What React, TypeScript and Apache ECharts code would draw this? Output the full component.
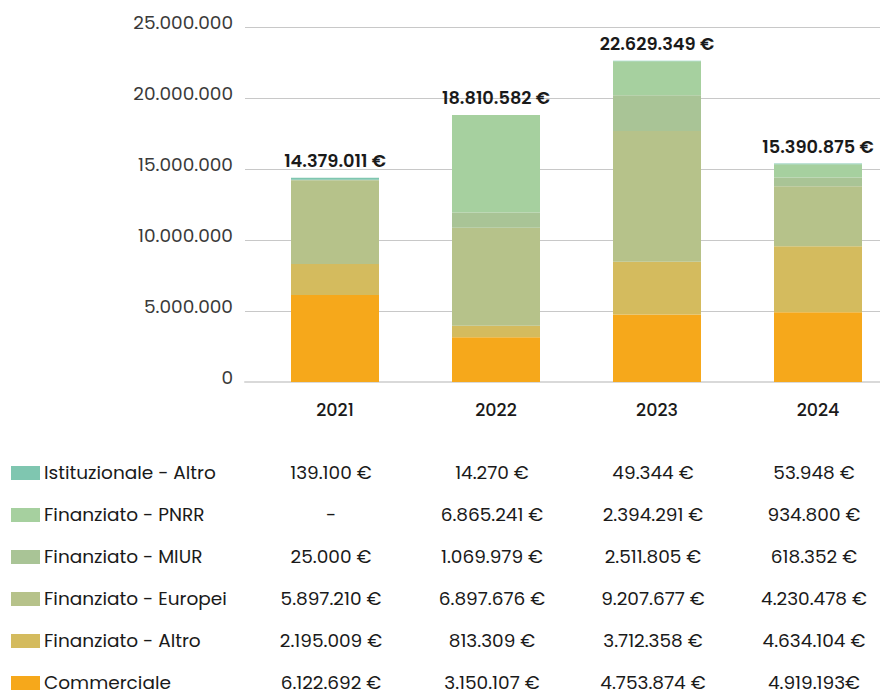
import React, { useEffect, useRef } from "react";
import * as echarts from "echarts";

const years = ["2021", "2022", "2023", "2024"];
// stack order bottom -> top
const seriesNames = [
  "Commerciale",
  "Finanziato - Altro",
  "Finanziato - Europei",
  "Finanziato - MIUR",
  "Finanziato - PNRR",
  "Istituzionale - Altro",
];
const commerciale = [6122692, 3150107, 4753874, 4919193];
const finAltro = [2195009, 813309, 3712358, 4634104];
const finEuropei = [5897210, 6897676, 9207677, 4230478];
const finMiur = [25000, 1069979, 2511805, 618352];
const finPnrr = [0, 6865241, 2394291, 934800];
const istAltro = [139100, 14270, 49344, 53948];
const seriesValues = [commerciale, finAltro, finEuropei, finMiur, finPnrr, istAltro];
const seriesColors = ["#f6a81b", "#d4bb5e", "#b6c28a", "#a9c496", "#a6d09f", "#7fc6b0"];
const yTicks = [0, 5000000, 10000000, 15000000, 20000000, 25000000];

const FONT = "Poppins, Inter, 'Noto Sans', sans-serif";

function dots(v: number): string {
  return String(Math.round(v)).replace(/\B(?=(\d{3})+(?!\d))/g, ".");
}
function euro(v: number, isLastRow: boolean, c: number): string {
  if (v === 0) return "-";
  // the source table omits the space in one cell
  if (isLastRow && c === 3) return dots(v) + "€";
  return dots(v) + " €";
}

const totals = years.map((_, i) => seriesValues.reduce((s, arr) => s + arr[i], 0));

export default function App() {
  const ref = useRef<HTMLDivElement>(null);
  useEffect(() => {
    if (!ref.current) return;
    const chart = echarts.init(ref.current, undefined, { renderer: "svg" });
    const yMax = yTicks[yTicks.length - 1];
    const option: any = {
      animation: false,
      textStyle: { fontFamily: FONT },
      grid: [
        { left: 245, width: 635, top: 27, height: 355 },
        { left: 254.5, width: 644, top: 27, height: 355 },
      ],
      xAxis: [
        {
          type: "category",
          gridIndex: 0,
          data: [""],
          axisLine: { show: true, lineStyle: { color: "#d9d9d9", width: 2 } },
          axisTick: { show: false },
          axisLabel: { show: false },
        },
        {
          type: "category",
          gridIndex: 1,
          data: years,
          axisLine: { show: false },
          axisTick: { show: false },
          axisLabel: {
            margin: 19,
            fontSize: 17.5,
            fontWeight: 500,
            color: "#1a1a1a",
            fontFamily: FONT,
          },
        },
      ],
      yAxis: [
        {
          type: "value",
          gridIndex: 0,
          min: 0,
          max: yMax,
          interval: 5000000,
          axisLine: { show: false },
          axisTick: { show: false },
          splitLine: { lineStyle: { color: "#c8c8c8", width: 1 } },
          axisLabel: {
            margin: 12,
            fontSize: 18.5,
            color: "#3a3a3a",
            fontFamily: FONT,
            verticalAlign: "bottom",
            lineHeight: 10,
            formatter: (v: number) => dots(v),
          },
        },
        {
          type: "value",
          gridIndex: 1,
          min: 0,
          max: yMax,
          show: false,
          splitLine: { show: false },
        },
      ],
      series: seriesNames.map((name, si) => ({
        name,
        type: "bar",
        stack: "total",
        xAxisIndex: 1,
        yAxisIndex: 1,
        barWidth: 88,
        itemStyle: { color: seriesColors[si] },
        data: seriesValues[si],
        label:
          si === seriesNames.length - 1
            ? {
                show: true,
                position: "top",
                distance: 8,
                fontSize: 17.8,
                fontWeight: 600,
                color: "#1a1a1a",
                fontFamily: FONT,
                formatter: (p: any) => dots(totals[p.dataIndex]) + " €",
              }
            : { show: false },
      })),
    };
    chart.setOption(option);

    // table below the chart, columns aligned to category positions
    const colX = years.map((y) => (chart.convertToPixel({ xAxisIndex: 1 } as any, y) as number) - 4);
    const rowY0 = 472;
    const rowStep = 42;
    const graphics: any[] = [];
    const order = seriesNames.map((_, i) => seriesNames.length - 1 - i);
    order.forEach((si, r) => {
      const y = rowY0 + r * rowStep;
      graphics.push({
        type: "rect",
        shape: { x: 11, y: y - 6, width: 29, height: 14 },
        style: { fill: seriesColors[si] },
      });
      graphics.push({
        type: "text",
        x: 44,
        y,
        style: {
          text: seriesNames[si],
          fontSize: 18.5,
          fontFamily: FONT,
          fill: "#1a1a1a",
          verticalAlign: "middle",
          align: "left",
        },
      });
      seriesValues[si].forEach((v, c) => {
        graphics.push({
          type: "text",
          x: colX[c],
          y,
          style: {
            text: euro(v, r === order.length - 1, c),
            fontSize: 18.5,
            fontFamily: FONT,
            fill: "#1a1a1a",
            verticalAlign: "middle",
            align: "center",
          },
        });
      });
    });
    chart.setOption({ graphic: graphics });
    return () => chart.dispose();
  }, []);
  return (
    <div
      ref={ref}
      style={{ position: "fixed", left: 0, top: 0, width: 900, height: 693, background: "#fff" }}
    />
  );
}
